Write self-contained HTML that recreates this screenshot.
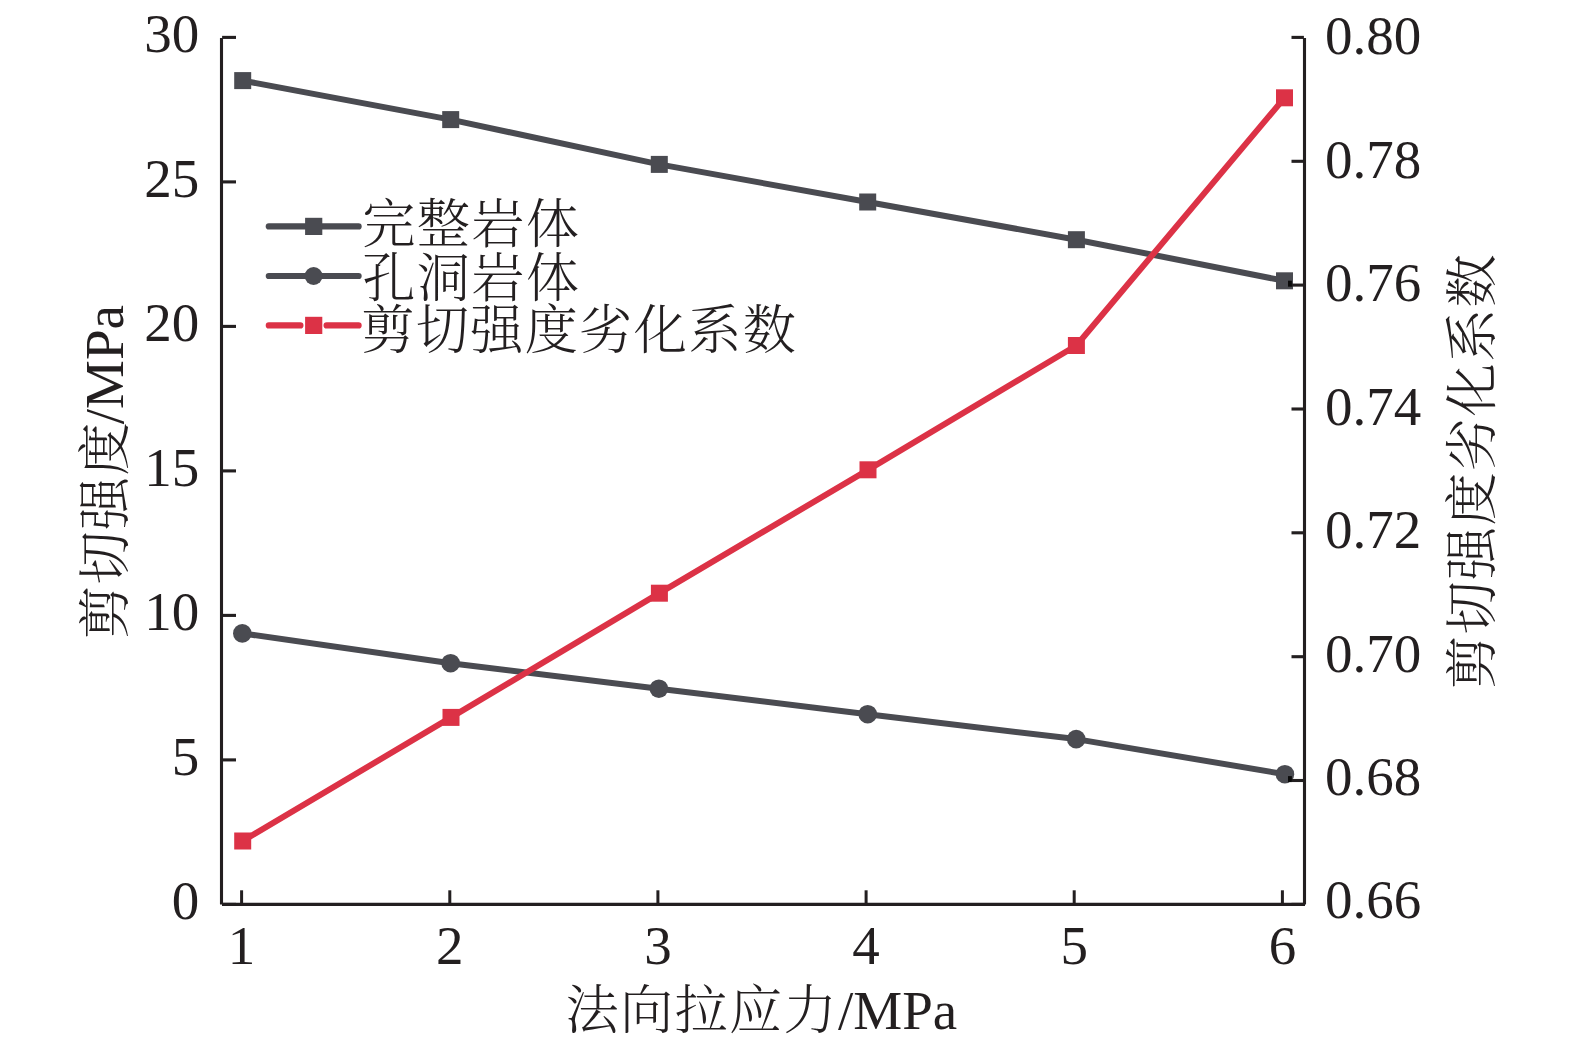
<!DOCTYPE html>
<html lang="zh-CN">
<head>
<meta charset="utf-8">
<title>剪切强度与法向拉应力关系</title>
<style>
html,body{margin:0;padding:0;background:#fff;}
body{width:1575px;height:1053px;overflow:hidden;}
svg{display:block;}
text{font-family:"Liberation Serif","Noto Serif CJK SC","Noto Serif CJK JP","Noto Sans CJK SC",serif;fill:#231f20;}
.num{font-size:55px;}
.cjk{font-size:53.2px;letter-spacing:1.3px;font-weight:300;}
.lat{font-size:55px;}
</style>
</head>
<body>
<svg width="1575" height="1053" viewBox="0 0 1575 1053">
<rect width="1575" height="1053" fill="#fff"/>

<g stroke="#231f20" stroke-width="3.1" fill="none" stroke-linecap="butt">
<path d="M221.5 38.1 V904.4"/>
<path d="M1304.5 38.1 V904.4"/>
<path d="M222.0 904.4 H1305.0"/>
<path d="M222.1 904.4 H236.0"/>
<path d="M222.1 759.9 H236.0"/>
<path d="M222.1 615.4 H236.0"/>
<path d="M222.1 470.9 H236.0"/>
<path d="M222.1 326.4 H236.0"/>
<path d="M222.1 181.9 H236.0"/>
<path d="M222.1 37.4 H236.0"/>
<path d="M241.6 904.4 V890.3" stroke-width="3"/>
<path d="M449.8 904.4 V890.3" stroke-width="3"/>
<path d="M657.9 904.4 V890.3" stroke-width="3"/>
<path d="M866.1 904.4 V890.3" stroke-width="3"/>
<path d="M1074.2 904.4 V890.3" stroke-width="3"/>
<path d="M1282.4 904.4 V890.3" stroke-width="3"/>
</g>
<polyline points="242.7,80.6 450.7,119.6 659.3,164.4 867.7,202.0 1076.4,239.7 1284.5,280.8" fill="none" stroke="#4a4b51" stroke-width="6.0" stroke-linejoin="round"/>
<rect x="234.2" y="72.1" width="17" height="17" fill="#4a4b51"/>
<rect x="442.2" y="111.1" width="17" height="17" fill="#4a4b51"/>
<rect x="650.8" y="155.9" width="17" height="17" fill="#4a4b51"/>
<rect x="859.2" y="193.5" width="17" height="17" fill="#4a4b51"/>
<rect x="1067.9" y="231.2" width="17" height="17" fill="#4a4b51"/>
<rect x="1276.0" y="272.3" width="17" height="17" fill="#4a4b51"/>
<polyline points="242.3,633.4 450.6,663.2 658.9,688.7 867.7,714.2 1076.2,739.1 1284.9,774.2" fill="none" stroke="#4a4b51" stroke-width="6.0" stroke-linejoin="round"/>
<circle cx="242.3" cy="633.4" r="9.3" fill="#4a4b51"/>
<circle cx="450.6" cy="663.2" r="9.3" fill="#4a4b51"/>
<circle cx="658.9" cy="688.7" r="9.3" fill="#4a4b51"/>
<circle cx="867.7" cy="714.2" r="9.3" fill="#4a4b51"/>
<circle cx="1076.2" cy="739.1" r="9.3" fill="#4a4b51"/>
<circle cx="1284.9" cy="774.2" r="9.3" fill="#4a4b51"/>
<polyline points="242.7,841.0 451.0,717.4 659.4,593.2 868.0,469.8 1076.4,345.5 1284.5,97.8" fill="none" stroke="#dc3246" stroke-width="6.0" stroke-linejoin="round"/>
<rect x="234.2" y="832.5" width="17" height="17" fill="#dc3246"/>
<rect x="442.5" y="708.9" width="17" height="17" fill="#dc3246"/>
<rect x="650.9" y="584.7" width="17" height="17" fill="#dc3246"/>
<rect x="859.5" y="461.3" width="17" height="17" fill="#dc3246"/>
<rect x="1067.9" y="337.0" width="17" height="17" fill="#dc3246"/>
<rect x="1276.0" y="89.3" width="17" height="17" fill="#dc3246"/>
<g stroke="#231f20" stroke-width="3.1" fill="none">
<path d="M1303.9 904.4 H1291.5"/>
<path d="M1303.9 780.5 H1291.5"/>
<path d="M1303.9 656.7 H1291.5"/>
<path d="M1303.9 532.8 H1291.5"/>
<path d="M1303.9 409.0 H1291.5"/>
<path d="M1303.9 285.1 H1291.5"/>
<path d="M1303.9 161.3 H1291.5"/>
<path d="M1303.9 37.4 H1291.5"/>
</g>
<rect x="1288" y="280.7" width="3.9" height="6" fill="#0a0a0a"/>
<rect x="1288" y="776.1" width="3.9" height="6" fill="#0a0a0a"/>
<path d="M268.8 226.4 H358.6" stroke="#4a4b51" stroke-width="6.2" stroke-linecap="round"/>
<rect x="305.1" y="217.8" width="17.2" height="17.2" fill="#4a4b51"/>
<path d="M268.8 276.0 H358.6" stroke="#4a4b51" stroke-width="6.2" stroke-linecap="round"/>
<circle cx="313.6" cy="276.0" r="9" fill="#4a4b51"/>
<path d="M268.8 325.4 H300.4 M326.6 325.4 H358.6" stroke="#dc3246" stroke-width="6.2" stroke-linecap="round"/>
<rect x="305.1" y="316.8" width="17.2" height="17.2" fill="#dc3246"/>
<text class="cjk" x="362.3" y="243.4">完整岩体</text>
<text class="cjk" x="362.3" y="296.6">孔洞岩体</text>
<text class="cjk" x="361.3" y="348.7">剪切强度劣化系数</text>
<text class="num" x="199.3" y="919.4" text-anchor="end">0</text>
<text class="num" x="199.3" y="774.9" text-anchor="end">5</text>
<text class="num" x="199.3" y="630.4" text-anchor="end">10</text>
<text class="num" x="199.3" y="485.9" text-anchor="end">15</text>
<text class="num" x="199.3" y="341.4" text-anchor="end">20</text>
<text class="num" x="199.3" y="196.9" text-anchor="end">25</text>
<text class="num" x="199.3" y="52.4" text-anchor="end">30</text>
<text class="num" x="1325" y="918.3">0.66</text>
<text class="num" x="1325" y="794.9">0.68</text>
<text class="num" x="1325" y="671.5">0.70</text>
<text class="num" x="1325" y="548.0">0.72</text>
<text class="num" x="1325" y="424.6">0.74</text>
<text class="num" x="1325" y="301.2">0.76</text>
<text class="num" x="1325" y="177.8">0.78</text>
<text class="num" x="1325" y="54.3">0.80</text>
<text class="num" x="241.6" y="963.7" text-anchor="middle">1</text>
<text class="num" x="449.8" y="963.7" text-anchor="middle">2</text>
<text class="num" x="657.9" y="963.7" text-anchor="middle">3</text>
<text class="num" x="866.1" y="963.7" text-anchor="middle">4</text>
<text class="num" x="1074.2" y="963.7" text-anchor="middle">5</text>
<text class="num" x="1282.4" y="963.7" text-anchor="middle">6</text>
<text x="565.5" y="1029"><tspan class="cjk" dy="0.1">法向拉应力</tspan><tspan class="lat" dy="-0.1">/MPa</tspan></text>
<text transform="translate(123.2 638.9) rotate(-90)"><tspan class="cjk" dy="0.4">剪切强度</tspan><tspan class="lat" dy="-0.4" dx="-3.3">/MPa</tspan></text>
<text transform="translate(1490.5 689.0) rotate(-90)" class="cjk">剪切强度劣化系数</text>
</svg>
</body>
</html>
